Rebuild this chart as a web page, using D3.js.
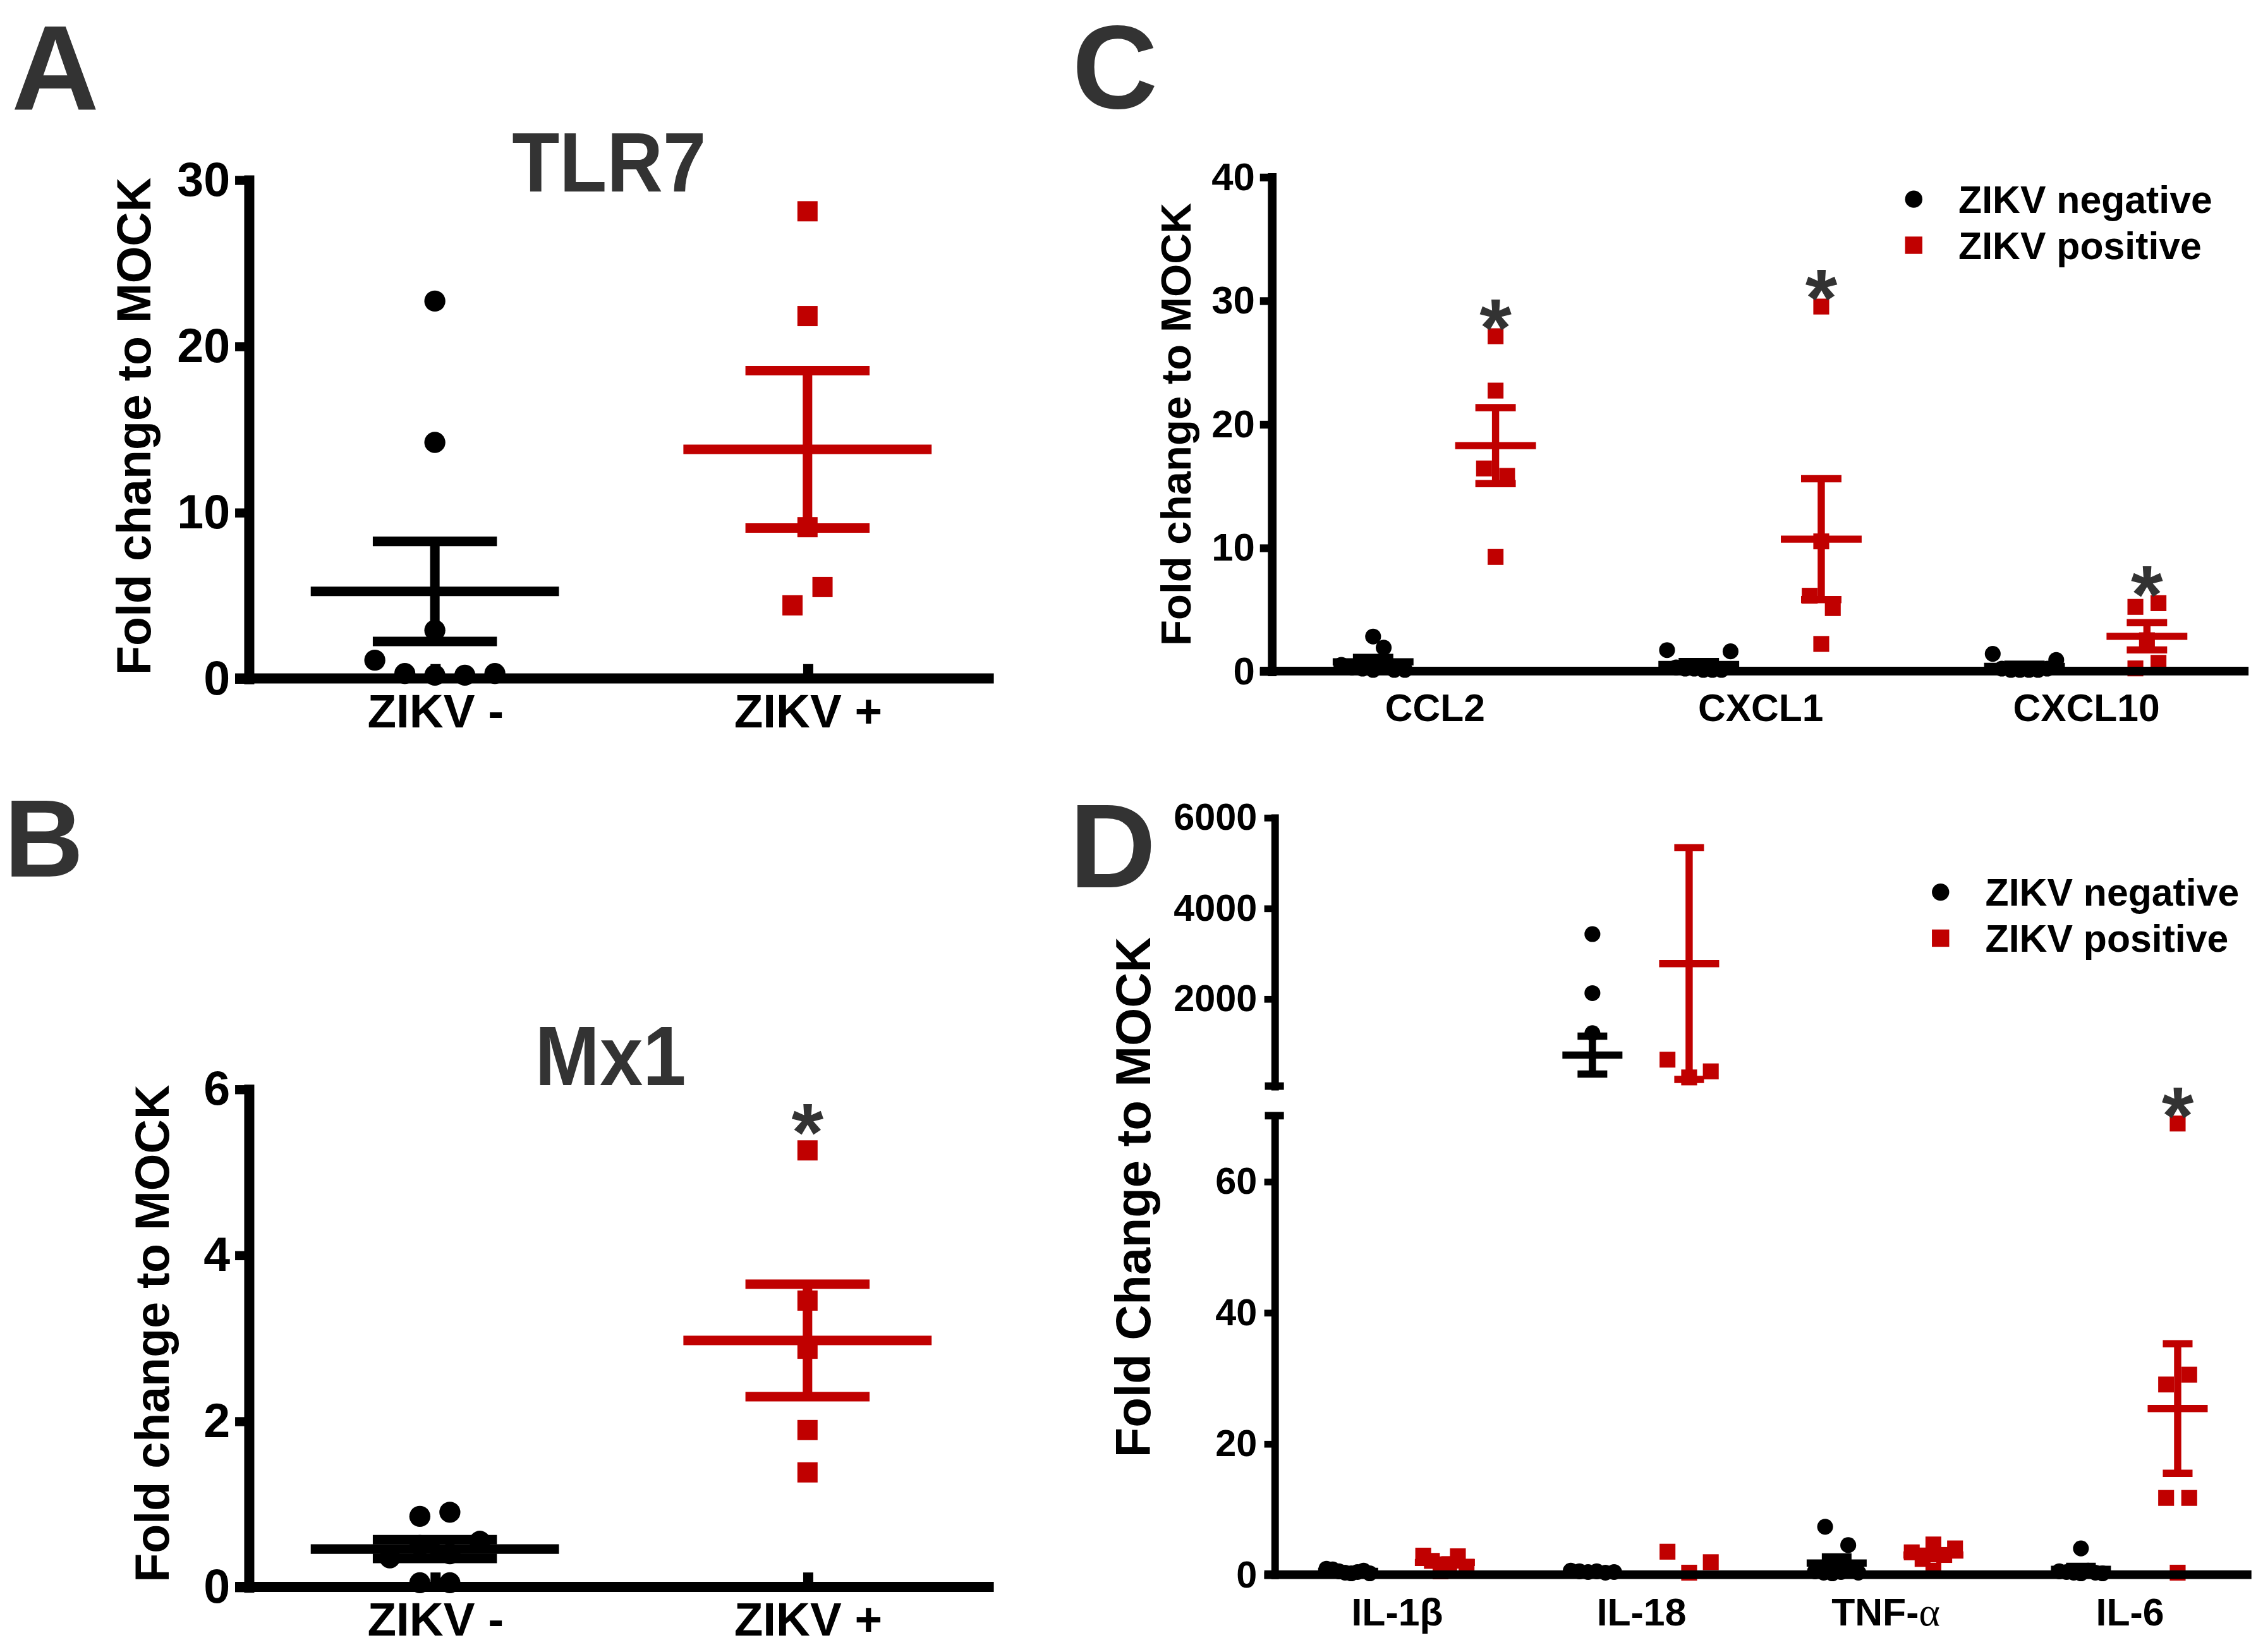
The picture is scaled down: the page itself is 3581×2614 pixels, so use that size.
<!DOCTYPE html>
<html>
<head>
<meta charset="utf-8">
<script src="https://cdn.jsdelivr.net/npm/d3@7"></script>
<style>
  html, body { margin: 0; padding: 0; background: #ffffff; }
  svg { display: block; }
</style>
</head>
<body>
<svg id="fig" width="3581" height="2614" viewBox="0 0 1568 1144.6"></svg>
<script>
// ===================== DATA =====================
const groupsAB  = ["ZIKV -", "ZIKV +"];
const tlr7Neg   = [22.7, 14.2, 2.9, 1.1, 0.3, 0.2, 0.2, 0.3];
const tlr7Pos   = [28.1, 21.8, 9.1, 4.4, 5.5];
const mx1Neg    = [0.85, 0.9, 0.35, 0.5, 0.4, 0.55, 0.05, 0.05];
const mx1Pos    = [5.26, 3.45, 2.87, 1.89, 1.38];
const ticksTLR7 = [0, 10, 20, 30];
const ticksMx1  = [0, 2, 4, 6];

const chemokines = ["CCL2", "CXCL1", "CXCL10"];
const ccl2Neg    = [2.8, 0.5, 0.3, 0.2, 0.1, 1.9, 0.1, 0.1];
const ccl2Pos    = [27.1, 22.7, 16.4, 15.8, 9.24];
const cxcl1Neg   = [1.7, 0.3, 0.2, 0.2, 0.1, 0.1, 0.1, 1.6];
const cxcl1Pos   = [29.5, 10.5, 6.1, 5.1, 2.2];
const cxcl10Neg  = [1.4, 0.2, 0.1, 0.1, 0.1, 0.1, 0.2, 0.9];
const cxcl10Pos  = [5.2, 5.5, 2.5, 0.22, 0.67];
const ticksC     = [0, 10, 20, 30, 40];

const cytokines  = ["IL-1β", "IL-18", "TNF-α", "IL-6"];
const il1bNeg    = [0.9, 0.8, 0.5, 0.3, 0.2, 0.4, 0.6, 0.2];
const il1bPos    = [2.9, 2.1, 0.5, 1.6, 2.8, 1.2];
const il18Neg    = [3424, 2121, 1236, 0.6, 0.5, 0.4, 0.5, 0.3, 0.4];
const il18Pos    = [18100, 653, 261, 395, 3.5, 0.3, 1.9]; // 18100 lies above the 6000 axis limit (clipped, as in the original)
const tnfNeg     = [7.3, 4.5, 0.5, 0.3, 0.2, 0.4, 0.6, 0.3];
const tnfPos     = [4.6, 3.4, 2.4, 0.6, 3.0, 4.0];
const il6Neg     = [4.0, 0.5, 0.4, 0.3, 0.2, 0.6, 0.3, 0.2];
const il6Pos     = [68.8, 29, 30.5, 11.7, 11.7, 0.3];
const ticksDLow  = [0, 20, 40, 60];
const ticksDHigh = [2000, 4000, 6000];
const breakD     = 70;
const maxD       = 6000;

const seriesNames = ["ZIKV negative", "ZIKV positive"];
const sigB = ["ZIKV +"];
const sigC = ["CCL2", "CXCL1", "CXCL10"];
const sigD = ["IL-6"];

// ===================== STYLE =====================
const RED = "#c00000", INK = "#000000", GREY = "#333333";
const SANS  = "'Liberation Sans', Arial, Helvetica, sans-serif";
const SERIF = "'Liberation Serif', 'Times New Roman', 'DejaVu Serif', serif";
const svg = d3.select("#fig");

const stAB = { circle: 14.6, square: 14, thresh: 14.6, step: 20.8, maxW: 100, meanHalf: 86, capHalf: 43, lw: 6.6, star: 23.5 };
const stC  = { circle: 11, square: 11, thresh: 16.5, step: 16, maxW: 44, meanHalf: 28, capHalf: 14, lw: 5, star: 17 };
const stD  = { circle: 11, square: 11, thresh: 16.5, step: 16, maxW: 30, meanHalf: 20.8, capHalf: 10.3, lw: 5, star: 16.4 };

// ===================== HELPERS =====================
function dodge(vals, yFn, st) {
  const pts = vals.map((v, i) => ({ v, i, py: yFn(v) }));
  const sorted = pts.slice().sort((a, b) => b.py - a.py);
  const rows = [];
  let cur = null;
  for (const p of sorted) {
    if (cur && cur.start - p.py < st.thresh) cur.items.push(p);
    else { cur = { start: p.py, items: [p] }; rows.push(cur); }
  }
  const off = new Array(vals.length).fill(0);
  rows.forEach(r => {
    r.items.sort((a, b) => a.i - b.i);
    const k = r.items.length;
    let s = st.step;
    if (k > 1 && (k - 1) * s > st.maxW) s = st.maxW / (k - 1);
    r.items.forEach((p, j) => { off[p.i] = (j - (k - 1) / 2) * s; });
  });
  return off;
}

function drawGroup(g, vals, cx, yFn, maxVis, shape, color, st) {
  const vis = vals.filter(v => v <= maxVis);
  const offs = dodge(vis, yFn, st);
  if (shape === "circle") {
    g.append("g").selectAll(null).data(vis).join("circle")
      .attr("cx", (d, i) => cx + offs[i]).attr("cy", d => yFn(d))
      .attr("r", st.circle / 2).attr("fill", color);
  } else {
    g.append("g").selectAll(null).data(vis).join("rect")
      .attr("x", (d, i) => cx + offs[i] - st.square / 2).attr("y", d => yFn(d) - st.square / 2)
      .attr("width", st.square).attr("height", st.square).attr("fill", color);
  }
  const m = d3.mean(vals);
  const se = d3.deviation(vals) / Math.sqrt(vals.length);
  const lo = Math.max(m - se, 0), hi = m + se;
  const segs = [
    [cx - st.meanHalf, yFn(m), cx + st.meanHalf, yFn(m)],
    [cx, yFn(lo), cx, yFn(hi)],
    [cx - st.capHalf, yFn(hi), cx + st.capHalf, yFn(hi)],
    [cx - st.capHalf, yFn(lo), cx + st.capHalf, yFn(lo)]
  ];
  g.append("g").selectAll(null).data(segs).join("line")
    .attr("x1", d => d[0]).attr("y1", d => d[1]).attr("x2", d => d[2]).attr("y2", d => d[3])
    .attr("stroke", color).attr("stroke-width", st.lw);
  return { topY: yFn(d3.max(vis)) };
}

function star(g, x, yCenter) {
  g.append("text").attr("x", x).attr("y", yCenter + 31)
    .attr("text-anchor", "middle").attr("fill", GREY)
    .style("font-family", SANS).style("font-weight", "bold").style("font-size", "57px")
    .text("*");
}

function yAxis(g, scale, x, ticks, o) {
  const ax = d3.axisLeft(scale).tickValues(ticks).tickSize(o.tickSize).tickSizeOuter(0)
    .tickPadding(o.pad).tickFormat(d3.format("d"));
  const a = g.append("g").attr("transform", `translate(${x},0)`).call(ax);
  a.select(".domain").attr("stroke", INK).attr("stroke-width", o.lw).attr("stroke-linecap", "square");
  a.selectAll(".tick line").attr("stroke", INK).attr("stroke-width", o.lw * 0.9);
  a.selectAll(".tick text").attr("fill", INK)
    .style("font-family", SANS).style("font-weight", "bold").style("font-size", o.fs + "px");
  return a;
}

function xAxis(g, scale, y, o) {
  g.append("line").attr("x1", o.x0).attr("x2", o.x1).attr("y1", y).attr("y2", y)
    .attr("stroke", INK).attr("stroke-width", o.lw);
  const ax = d3.axisBottom(scale).tickSize(o.tickSize).tickSizeOuter(0).tickPadding(o.pad);
  const a = g.append("g").attr("transform", `translate(0,${y})`).call(ax);
  a.select(".domain").remove();
  a.selectAll(".tick line").attr("stroke", INK).attr("stroke-width", o.lw);
  a.selectAll(".tick text").attr("fill", INK)
    .style("font-family", SANS).style("font-weight", "bold").style("font-size", o.fs + "px");
  return a;
}

function yTitle(g, text, x, y, fs) {
  g.append("text").attr("transform", `translate(${x},${y}) rotate(-90)`)
    .attr("text-anchor", "middle").attr("fill", INK)
    .style("font-family", SANS).style("font-weight", "bold").style("font-size", fs + "px")
    .text(text);
}

function letter(g, text, x, y, fs) {
  g.append("text").attr("x", x).attr("y", y).attr("fill", GREY)
    .style("font-family", SANS).style("font-weight", "bold").style("font-size", fs + "px")
    .text(text);
}

function title(g, text, x, y) {
  g.append("text").attr("transform", `translate(${x},${y}) scale(0.92,1)`)
    .attr("text-anchor", "middle").attr("fill", GREY)
    .style("font-family", SANS).style("font-weight", "bold").style("font-size", "58.5px")
    .text(text);
}

function legend(g, x, y, items) {
  items.forEach((it, i) => {
    const cy = y + i * 31.9;
    if (it.shape === "circle") g.append("circle").attr("cx", x).attr("cy", cy).attr("r", 6).attr("fill", it.color);
    else g.append("rect").attr("x", x - 6).attr("y", cy - 6).attr("width", 12).attr("height", 12).attr("fill", it.color);
    g.append("text").attr("x", x + 31).attr("y", cy + 9.5).attr("fill", INK)
      .style("font-family", SANS).style("font-weight", "bold").style("font-size", "26.6px")
      .text(it.label);
  });
}

const legendItems = [
  { label: seriesNames[0], shape: "circle", color: INK },
  { label: seriesNames[1], shape: "square", color: RED }
];

// ===================== PANEL A : TLR7 =====================
{
  const g = svg.append("g");
  const x = d3.scalePoint().domain(groupsAB).range([172.2, 688.6]).padding(0.5);
  const y = d3.scaleLinear().domain([0, 30]).range([470.1, 124.5]);
  letter(g, "A", 8, 76, 84);
  title(g, "TLR7", 422, 132.7);
  yTitle(g, "Fold change to MOCK", 104, 295.3, 33);
  drawGroup(g, tlr7Neg, x(groupsAB[0]), y, Infinity, "circle", INK, stAB);
  drawGroup(g, tlr7Pos, x(groupsAB[1]), y, Infinity, "square", RED, stAB);
  xAxis(g, x, y(0), { x0: 162.9, x1: 688.6, lw: 7, tickSize: -10, pad: 10.7, fs: 32.7 });
  yAxis(g, y, 172.2, ticksTLR7, { tickSize: 9.3, pad: 3.5, lw: 7, fs: 33 });
}

// ===================== PANEL B : Mx1 =====================
{
  const g = svg.append("g");
  const x = d3.scalePoint().domain(groupsAB).range([172.2, 688.6]).padding(0.5);
  const y = d3.scaleLinear().domain([0, 6]).range([1099.5, 754.5]);
  letter(g, "B", 3, 607.5, 76);
  title(g, "Mx1", 423, 752);
  yTitle(g, "Fold change to MOCK", 117, 924, 33);
  drawGroup(g, mx1Neg, x(groupsAB[0]), y, Infinity, "circle", INK, stAB);
  const r = drawGroup(g, mx1Pos, x(groupsAB[1]), y, Infinity, "square", RED, stAB);
  sigB.forEach(k => star(g, x(k), r.topY - stAB.star));
  xAxis(g, x, y(0), { x0: 162.9, x1: 688.6, lw: 7, tickSize: -10, pad: 10.7, fs: 32.7 });
  yAxis(g, y, 172.2, ticksMx1, { tickSize: 9.3, pad: 3.5, lw: 7, fs: 33 });
}

// ===================== PANEL C : chemokines =====================
{
  const g = svg.append("g");
  const x = d3.scalePoint().domain(chemokines).range([881, 1558]).padding(0.5);
  const y = d3.scaleLinear().domain([0, 40]).range([465, 122.5]);
  const neg = [ccl2Neg, cxcl1Neg, cxcl10Neg];
  const pos = [ccl2Pos, cxcl1Pos, cxcl10Pos];
  const off = x.step() * 0.188;
  letter(g, "C", 743, 75, 82);
  yTitle(g, "Fold change to MOCK", 825, 294, 29.4);
  chemokines.forEach((c, i) => {
    drawGroup(g, neg[i], x(c) - off, y, Infinity, "circle", INK, stC);
    const r = drawGroup(g, pos[i], x(c) + off, y, Infinity, "square", RED, stC);
    if (sigC.includes(c)) star(g, x(c) + off, r.topY - stC.star);
  });
  xAxis(g, x, y(0), { x0: 873, x1: 1558, lw: 6, tickSize: 0, pad: 16, fs: 26.5 });
  yAxis(g, y, 881, ticksC, { tickSize: 8, pad: 3.5, lw: 6, fs: 27 });
  legend(g, 1326, 138, legendItems);
}

// ===================== PANEL D : cytokines (broken axis) =====================
{
  const g = svg.append("g");
  const x = d3.scalePoint().domain(cytokines).range([883, 1560]).padding(0.5);
  const yLow  = d3.scaleLinear().domain([0, breakD]).range([1091, 773]);
  const yHigh = d3.scaleLinear().domain([breakD, maxD]).range([752.5, 566.3]);
  const y = v => (v <= breakD ? yLow(v) : yHigh(v));
  const neg = [il1bNeg, il18Neg, tnfNeg, il6Neg];
  const pos = [il1bPos, il18Pos, tnfPos, il6Pos];
  const off = x.step() * 0.198;
  letter(g, "D", 741, 614.8, 83);
  yTitle(g, "Fold Change to MOCK", 797, 829.5, 34);
  cytokines.forEach((c, i) => {
    drawGroup(g, neg[i], x(c) - off, y, maxD, "circle", INK, stD);
    const r = drawGroup(g, pos[i], x(c) + off, y, maxD, "square", RED, stD);
    if (sigD.includes(c)) star(g, x(c) + off, r.topY - stD.star);
  });
  const xa = xAxis(g, x, yLow(0), { x0: 876, x1: 1560, lw: 6, tickSize: 0, pad: 16.5, fs: 26.6 });
  xa.selectAll(".tick text").each(function (d) {
    const m = d.match(/^(.*-)([\u03b1\u03b2])$/);
    if (m) {
      const t = d3.select(this);
      t.text(null);
      t.append("tspan").text(m[1]);
      t.append("tspan").style("font-family", SERIF).style("font-weight", "normal")
        .style("font-size", "28px").text(m[2]);
    }
  });
  yAxis(g, yLow, 883, ticksDLow, { tickSize: 7, pad: 5, lw: 5.2, fs: 26 });
  yAxis(g, yHigh, 883, ticksDHigh, { tickSize: 7, pad: 5, lw: 5.2, fs: 26 });
  // break caps at the ends of both axis segments
  g.append("g").selectAll(null).data([yHigh(breakD), yLow(breakD)]).join("line")
    .attr("x1", 876.4).attr("x2", 889.6).attr("y1", d => d).attr("y2", d => d)
    .attr("stroke", INK).attr("stroke-width", 5.2);
  legend(g, 1344.6, 618.1, legendItems);
}
</script>
</body>
</html>
